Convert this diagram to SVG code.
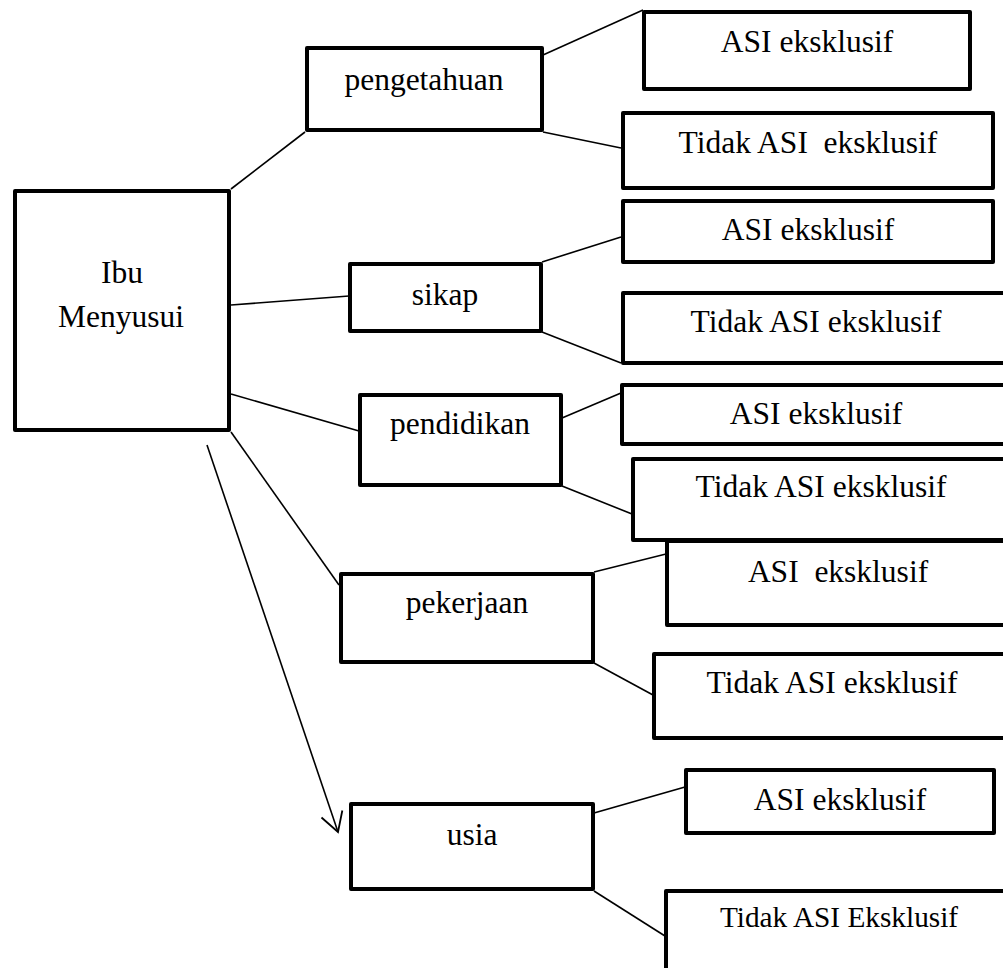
<svg xmlns="http://www.w3.org/2000/svg" width="1003" height="968" viewBox="0 0 1003 968">
<defs>
<style>
.box{fill:#fff;stroke:#000;stroke-width:4;stroke-linejoin:round}
.t{font-family:"Liberation Serif","Times New Roman",serif;font-size:31.5px;fill:#000;text-anchor:middle;white-space:pre}
.ts{font-size:29.3px}
.c{stroke:#000;stroke-width:1.6;fill:none}
</style>
<marker id="arr" markerUnits="userSpaceOnUse" markerWidth="30" markerHeight="30" viewBox="-25 -15 30 30" refX="0" refY="0" orient="auto">
<path d="M-19,-11 L0,0 L-19,11" fill="none" stroke="#000" stroke-width="1.8"/>
</marker>
</defs>
<rect width="1003" height="968" fill="#fff"/>
<g id="connectors">
<line class="c" x1="231" y1="189" x2="305" y2="132"/>
<line class="c" x1="231" y1="305" x2="349" y2="296"/>
<line class="c" x1="231" y1="394" x2="359" y2="431"/>
<line class="c" x1="231" y1="432" x2="339" y2="585"/>
<line class="c" x1="207" y1="445" x2="338" y2="832" marker-end="url(#arr)"/>
<line class="c" x1="543" y1="55" x2="643" y2="10"/>
<line class="c" x1="543" y1="132" x2="621" y2="148"/>
<line class="c" x1="542" y1="262" x2="621" y2="237"/>
<line class="c" x1="542" y1="332" x2="621" y2="363"/>
<line class="c" x1="562" y1="418" x2="621" y2="393"/>
<line class="c" x1="562" y1="486" x2="632" y2="514"/>
<line class="c" x1="594" y1="572" x2="666" y2="554"/>
<line class="c" x1="594" y1="663" x2="653" y2="695"/>
<line class="c" x1="594" y1="813" x2="685" y2="787"/>
<line class="c" x1="594" y1="891" x2="665" y2="936"/>
</g>
<g id="ibu-menyusui">
<rect class="box" x="15" y="191" width="214" height="239"/>
<text class="t" x="122" y="283">Ibu</text>
<text class="t" x="121" y="327">Menyusui</text>
</g>
<g id="pengetahuan">
<rect class="box" x="307" y="48" width="235" height="82"/>
<text class="t" x="424" y="90">pengetahuan</text>
</g>
<g id="sikap">
<rect class="box" x="350" y="264" width="191" height="67"/>
<text class="t" x="445" y="305">sikap</text>
</g>
<g id="pendidikan">
<rect class="box" x="360" y="395" width="201" height="90"/>
<text class="t" x="460" y="434">pendidikan</text>
</g>
<g id="pekerjaan">
<rect class="box" x="341" y="574" width="252" height="88"/>
<text class="t" x="467" y="613">pekerjaan</text>
</g>
<g id="usia">
<rect class="box" x="351" y="804" width="242" height="85"/>
<text class="t" x="472" y="845">usia</text>
</g>
<g id="pengetahuan-asi">
<rect class="box" x="644" y="12" width="326" height="77"/>
<text class="t" x="807" y="52">ASI eksklusif</text>
</g>
<g id="pengetahuan-tidak">
<rect class="box" x="623" y="113" width="370" height="75"/>
<text class="t" x="808" y="153">Tidak ASI  eksklusif</text>
</g>
<g id="sikap-asi">
<rect class="box" x="623" y="201" width="370" height="61"/>
<text class="t" x="808" y="240">ASI eksklusif</text>
</g>
<g id="sikap-tidak">
<rect class="box" x="623" y="293" width="400" height="70"/>
<text class="t" x="816" y="332">Tidak ASI eksklusif</text>
</g>
<g id="pendidikan-asi">
<rect class="box" x="622" y="385" width="400" height="59"/>
<text class="t" x="816" y="424">ASI eksklusif</text>
</g>
<g id="pendidikan-tidak">
<rect class="box" x="633" y="459" width="400" height="81"/>
<text class="t" x="821" y="497">Tidak ASI eksklusif</text>
</g>
<g id="pekerjaan-asi">
<rect class="box" x="667" y="541" width="400" height="84"/>
<text class="t" x="838" y="582">ASI  eksklusif</text>
</g>
<g id="pekerjaan-tidak">
<rect class="box" x="654" y="654" width="400" height="84"/>
<text class="t" x="832" y="693">Tidak ASI eksklusif</text>
</g>
<g id="usia-asi">
<rect class="box" x="686" y="770" width="308" height="63"/>
<text class="t" x="840" y="810">ASI eksklusif</text>
</g>
<g id="usia-tidak">
<rect class="box" x="666" y="891" width="400" height="120"/>
<text class="t ts" x="839" y="927">Tidak ASI Eksklusif</text>
</g>
</svg>
